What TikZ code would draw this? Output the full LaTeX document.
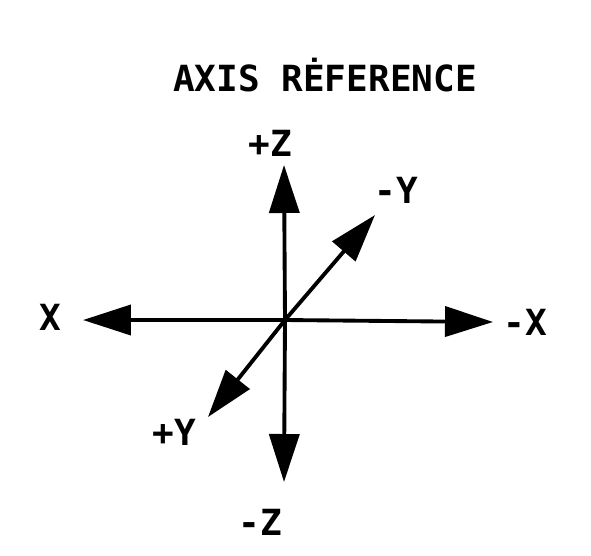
\documentclass[tikz,border=0pt]{standalone}
\usepackage{fontspec}
\setmainfont{DejaVu Sans Mono}
\usetikzlibrary{arrows.meta}

\begin{document}
\begin{tikzpicture}[
    x=0.02cm, y=-0.02cm,
    axis/.style = {line width=2.2pt, -{Triangle[length=0.96cm, width=0.6cm]}},
    lbl/.style  = {font=\fontsize{20.5}{24}\selectfont\bfseries, inner sep=0pt},
]
\useasboundingbox (0,0) rectangle (591,555);

% ---- title -------------------------------------------------------------------
\node[lbl] (title) at (325,75) {AXIS R\.EFERENCE};

% ---- axes from the origin ----------------------------------------------------
\coordinate (o)  at (285,320);
\coordinate (zp) at (284,165);
\coordinate (zm) at (284,482);
\coordinate (xp) at (83,320);
\coordinate (xm) at (493,322);
\coordinate (yp) at (208,417);
\coordinate (ym) at (375,215);

\draw[axis] (o) -- (zp);
\draw[axis] (o) -- (zm);
\draw[axis] (o) -- (xp);
\draw[axis] (o) -- (xm);
\draw[axis] (o) -- (yp);
\draw[axis] (o) -- (ym);

% ---- axis labels -------------------------------------------------------------
\node[lbl] (lzp) at (270,143) {+Z};
\node[lbl] (lzm) at (260,522) {-Z};
\node[lbl] (lxp) at (50,317)  {X};
\node[lbl] (lxm) at (525,322) {-X};
\node[lbl] (lyp) at (174,432) {+Y};
\node[lbl] (lym) at (396,190) {-Y};
\end{tikzpicture}
\end{document}
